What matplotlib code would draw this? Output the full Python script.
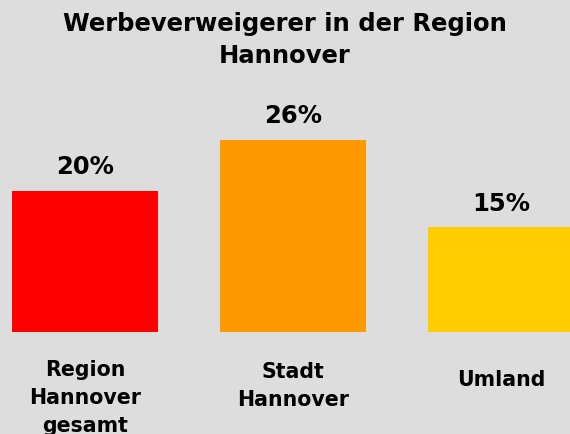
import matplotlib.pyplot as plt
import matplotlib.transforms as mtransforms

categories = ["Region\nHannover\ngesamt", "Stadt\nHannover", "Umland"]
values = [20.0, 27.2, 14.8]
value_labels = ["20%", "26%", "15%"]
colors = ["#ff0000", "#ff9900", "#ffcc00"]

bg = "#dddddd"
W, H = 570, 434

fig = plt.figure(figsize=(W / 100, H / 100), dpi=100, facecolor=bg)
# axes spans full width; baseline at 331.7 px, 7.05 px per percent
ax = fig.add_axes([0, (H - 331.7) / H, 1, 30 * 7.05 / H])
ax.set_facecolor(bg)
ax.axis("off")

x = list(range(len(values)))
ax.bar(x, values, width=146 / 208, color=colors)
ax.set_xlim(-85 / 208, (W - 85) / 208)
ax.set_ylim(0, 30)

for xi, v, lab in zip(x, values, value_labels):
    ax.annotate(lab, (xi, v), textcoords="offset points", xytext=(0, 12),
                ha="center", va="baseline", fontsize=17.5, fontweight="bold")

# category labels below the bars (vertical centres in px from top)
label_y = [398, 386, 380]
trans = mtransforms.blended_transform_factory(ax.transData, fig.transFigure)
for xi, cat, yy in zip(x, categories, label_y):
    ax.text(xi, 1 - yy / H, cat, transform=trans, ha="center", va="center",
            fontsize=14.8, fontweight="bold", linespacing=1.5, clip_on=False)

fig.text(0.5, 1 - 40 / H, "Werbeverweigerer in der Region\nHannover",
         ha="center", va="center", fontsize=17.5, fontweight="bold", linespacing=1.42)

fig.savefig("out.png", dpi=100, facecolor=bg)
